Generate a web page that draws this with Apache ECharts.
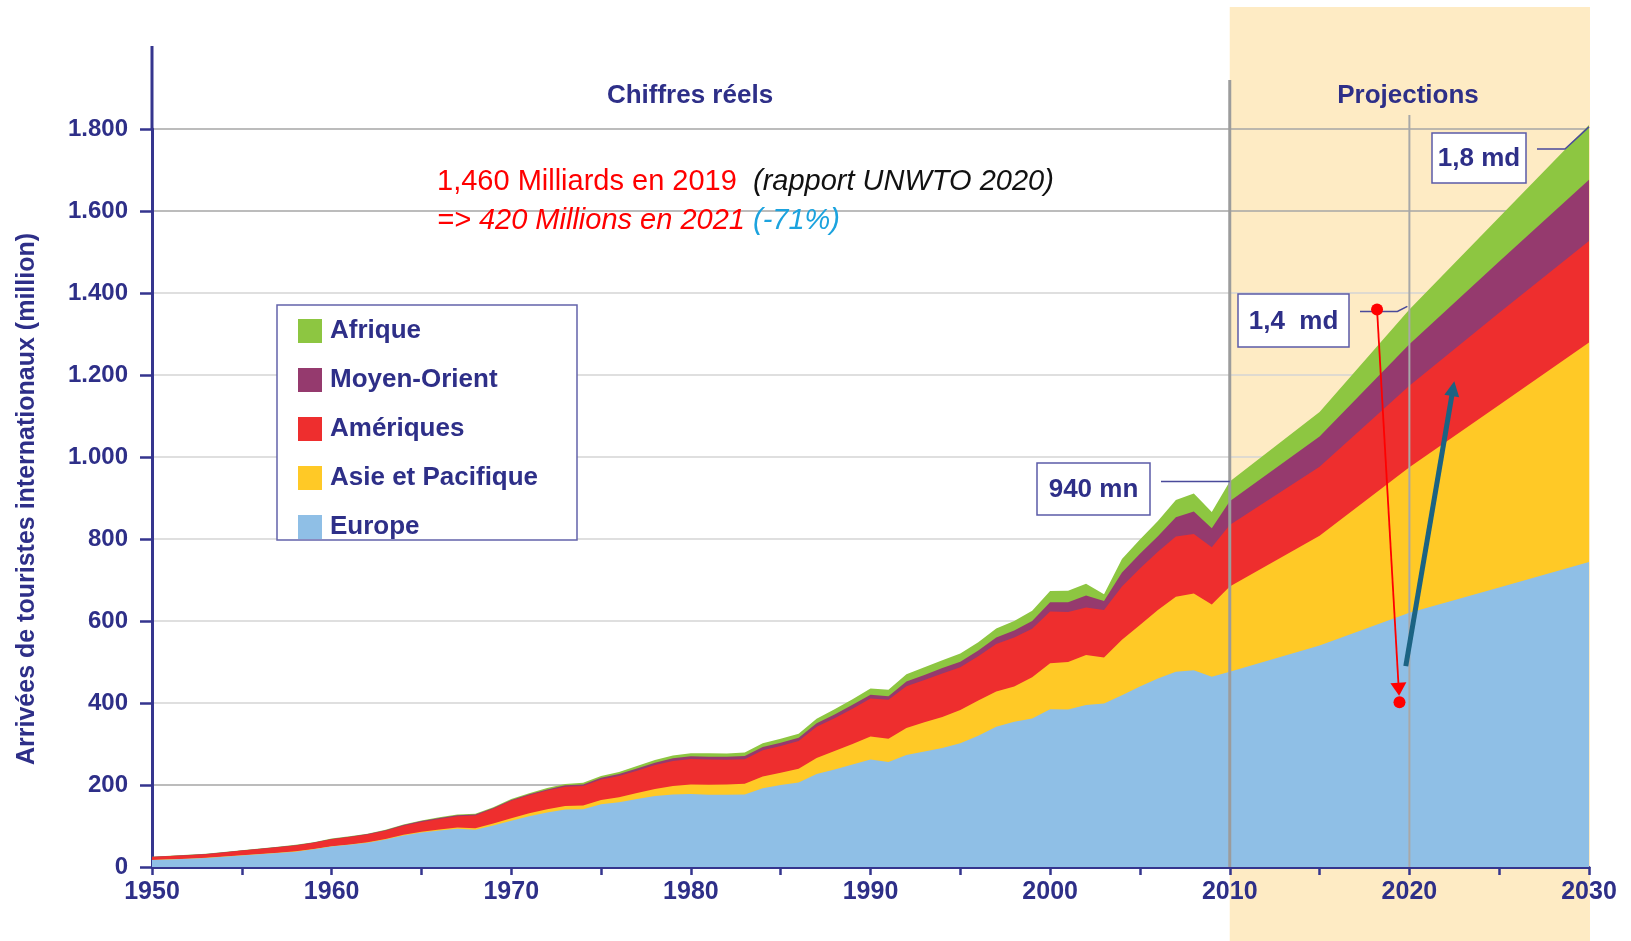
<!DOCTYPE html>
<html><head><meta charset="utf-8">
<script src="https://cdn.jsdelivr.net/npm/echarts@6/dist/echarts.min.js"></script>
<style>html,body{margin:0;padding:0;background:#fff}#c{width:1631px;height:941px}</style>
</head><body><div id="c"></div>
<script>
// ---- data (million international tourist arrivals) ----
const years = [1950,1951,1952,1953,1954,1955,1956,1957,1958,1959,
  1960,1961,1962,1963,1964,1965,1966,1967,1968,1969,
  1970,1971,1972,1973,1974,1975,1976,1977,1978,1979,
  1980,1981,1982,1983,1984,1985,1986,1987,1988,1989,
  1990,1991,1992,1993,1994,1995,1996,1997,1998,1999,
  2000,2001,2002,2003,2004,2005,2006,2007,2008,2009,
  2010,2015,2020,2025,2030];
const europe = [16.8,18.5,20,22,25,28,31,34,37.5,43,
  50,54,59,67,77,84,89,93,91,101,
  113,124,133,140,141,153,158,166,173,177,
  178,176,176,177,192,200,206,227,238,250,
  262,256,273,282,290,302,320,342,354,362,
  385,384,395,399,419,440,460,476,480,464,
  476,540,620,682,744];
const asiePacifique = [0.2,0.2,0.3,0.3,0.4,0.5,0.5,0.6,0.7,0.8,
  0.9,1.0,1.2,1.4,1.7,2.1,2.6,3.2,3.8,4.8,
  6.2,7,8,8.8,9,10.2,12,14.5,17.5,20.5,
  23,24.5,25.5,26,29,30,33.5,39,45,50,
  56,57,66,71,76,81,86,86,86,101,
  112,116,122,112,135,150,167,183,187,176,
  208,268,355,445,535];
const ameriques = [7.5,8,8.5,9,10,11.5,12.5,13.5,14.5,15.5,
  17,18,19,20,22,23.5,25.5,27.5,31,36,
  42.3,44,45.5,47,47.5,50,52,54.5,58,61,
  62.3,61.5,60,60,64,65.1,68,76,80,86,
  92.8,95,102,103,106,104,108,116,120,118,
  126,122,116,116,130,138,142,147,145,140,
  150,168,199,225,248];
const moyenOrient = [0.2,0.2,0.3,0.3,0.3,0.4,0.4,0.5,0.5,0.5,
  0.6,0.8,1.0,1.3,1.8,2.3,2.5,2.6,2.0,2.0,
  1.9,2.2,2.7,3.3,3.8,4.3,4.8,5.5,6.0,6.5,
  7.1,7.2,7.5,7.6,7.8,8.0,8.0,8.5,9.0,9.5,
  9.6,8.5,11.5,12.5,13.5,13.7,14,16,17,19,
  23,24,29,22,34,36,38,47,55,46,
  58,74,101,125,149];
const afrique = [0.5,0.5,0.6,0.6,0.7,0.7,0.7,0.7,0.8,0.8,
  0.8,0.9,1.0,1.1,1.2,1.4,1.5,1.7,1.9,2.1,
  2.4,2.8,3.2,3.6,4.0,4.7,5.2,5.8,6.3,6.8,
  7.2,8.0,7.8,8.5,9.2,9.7,9.6,11,12.5,13.5,
  15.2,16,17.5,18.5,19,20.1,20,22,23,25,
  27,28,29,16,33,35,37,42,44,40,
  48,60,85,108,134];

const legendOrder = ['Afrique','Moyen-Orient','Amériques','Asie et Pacifique','Europe'];
const projectionStart = 2010, projectionEnd = 2030, markYear = 2020;
// annotations (year, value)
const label940 = {text:'940 mn', at:[2010, 940]};
const label14 = {text:'1,4  md', at:[2020, 1360]};
const label18 = {text:'1,8 md', at:[2030, 1810]};
const redArrow = [[2018.2, 1360], [2019.45, 402]];
const blueArrow = [[2019.8, 490], [2022.5, 1185]];

// ---- styles ----
const NAVY = '#2e2f88';
const AXIS = '#35358e';
const FONT = '"Liberation Sans", Arial, Helvetica, sans-serif';
const COLORS = {Europe:'#8fbfe6', 'Asie et Pacifique':'#ffc926', 'Amériques':'#ee2e2e', 'Moyen-Orient':'#953a6e', 'Afrique':'#8dc641'};

// stacking (bottom -> top), cumulative tops built from the region arrays
const stackOrder = [['Europe', europe], ['Asie et Pacifique', asiePacifique], ['Amériques', ameriques],
  ['Moyen-Orient', moyenOrient], ['Afrique', afrique]];
const running = years.map(() => 0);
const cumulative = stackOrder.map(([name, arr]) => {
  const tops = arr.map((v, i) => (running[i] += v));
  return [name, tops];
});
// draw the highest band first so lower bands sit in front
const stackSeries = cumulative.slice().reverse().map(([name, tops]) => ({
  name, type:'line', symbol:'none', clip:false,
  color: COLORS[name],
  lineStyle:{width:0},
  areaStyle:{color: COLORS[name], opacity:1, origin:'start'},
  data: years.map((y, i) => [y, tops[i]])
}));

const chart = echarts.init(document.getElementById('c'), null, {renderer:'canvas'});
const gridColors = ['#a6a6a6','#a6a6a6','#d4d4d4','#d4d4d4','#d4d4d4','#d4d4d4','#d4d4d4','#d4d4d4','#a6a6a6','#a6a6a6'];
chart.setOption({
  animation:false,
  backgroundColor:'#ffffff',
  grid:{left:152, right:42, top:129, bottom:74, containLabel:false},
  legend:{data:legendOrder, orient:'vertical', left:277, top:305, padding:[13,10,10,21],
    itemWidth:24, itemHeight:24, itemGap:23, icon:'rect', selectedMode:false, z:10,
    textStyle:{fontFamily:FONT, fontSize:26, fontWeight:'bold', color:NAVY, padding:[0,0,0,3]}},
  xAxis:{type:'value', min:1950, max:2030, interval:5,
    axisLine:{lineStyle:{color:AXIS, width:3}},
    axisTick:{length:8, lineStyle:{color:AXIS, width:2.5}},
    axisLabel:{formatter:v => (v % 10 === 0 ? String(v) : ''), margin:13, fontFamily:FONT, fontSize:25, fontWeight:'bold', color:NAVY},
    splitLine:{show:false}},
  yAxis:{type:'value', min:0, max:1800, interval:200,
    axisLine:{show:true, lineStyle:{color:AXIS, width:3}},
    axisTick:{show:true, length:12, lineStyle:{color:AXIS, width:2.5}},
    axisLabel:{margin:24, fontFamily:FONT, fontSize:24, fontWeight:'bold', color:NAVY,
      formatter:v => v >= 1000 ? Math.floor(v/1000) + '.' + String(v % 1000).padStart(3,'0') : String(v)},
    splitLine:{show:true, lineStyle:{color:gridColors, width:1.5}}},
  series: stackSeries
});

const P = v => chart.convertToPixel({gridIndex:0}, v);
const g = [];
const ps = P([projectionStart, 0]), pe = P([projectionEnd, 0]), pm = P([markYear, 0]);
const yTop = P([1950, 1800]);
// projection shading
g.push({type:'rect', z:-1, silent:true, shape:{x:ps[0], y:7, width:pe[0]-ps[0]+1, height:934}, style:{fill:'#feebc4'}});
// y axis extension above 1800
g.push({type:'line', z:10, silent:true, shape:{x1:yTop[0], y1:46, x2:yTop[0], y2:yTop[1]}, style:{stroke:AXIS, lineWidth:3}});
// vertical separators
g.push({type:'line', z:50, silent:true, shape:{x1:ps[0], y1:80, x2:ps[0], y2:ps[1]}, style:{stroke:'#9c9c9c', lineWidth:3}});
g.push({type:'line', z:50, silent:true, shape:{x1:pm[0], y1:115, x2:pm[0], y2:pm[1]}, style:{stroke:'#a8a8a8', lineWidth:2}});

function txt(x, y, text, opts) {
  return {type:'text', z:60, silent:true, x, y,
    style:Object.assign({text, fill:NAVY, fontFamily:FONT, fontSize:26, fontWeight:'bold',
      align:'center', verticalAlign:'middle', textAlign:'center', textVerticalAlign:'middle'}, opts || {})};
}
g.push(txt(690, 96, 'Chiffres réels'));
g.push(txt(1408, 96, 'Projections'));
// y-axis name
g.push({type:'text', z:60, silent:true, x:27, y:499, rotation:Math.PI/2,
  style:{text:'Arrivées de touristes internationaux (million)', fill:NAVY, fontFamily:FONT, fontSize:25, fontWeight:'bold',
    align:'center', verticalAlign:'middle', textAlign:'center', textVerticalAlign:'middle'}});
// red commentary
g.push({type:'text', z:60, silent:true, x:437, y:182,
  style:{text:'{r|1,460 Milliards en 2019}  {k|(rapport UNWTO 2020)}', fontFamily:FONT, fontSize:29,
    align:'left', verticalAlign:'middle', textAlign:'left', textVerticalAlign:'middle',
    rich:{r:{fill:'#ff0000', fontFamily:FONT, fontSize:29}, k:{fill:'#111111', fontFamily:FONT, fontSize:29, fontStyle:'italic'}}}});
g.push({type:'text', z:60, silent:true, x:437, y:221,
  style:{text:'{r|=> 420 Millions en 2021} {b|(-71%)}', fontFamily:FONT, fontSize:29,
    align:'left', verticalAlign:'middle', textAlign:'left', textVerticalAlign:'middle',
    rich:{r:{fill:'#ff0000', fontFamily:FONT, fontSize:29, fontStyle:'italic'}, b:{fill:'#1ca3de', fontFamily:FONT, fontSize:29, fontStyle:'italic'}}}});

// legend frame
g.push({type:'rect', z:6, silent:true, shape:{x:277, y:305, width:300, height:235}, style:{fill:'#ffffff', stroke:'#6363ab', lineWidth:1.5}});

// annotation boxes
function box(x, y, w, h, text) {
  g.push({type:'rect', z:55, silent:true, shape:{x, y, width:w, height:h}, style:{fill:'#ffffff', stroke:'#5b5ba8', lineWidth:1.5}});
  g.push(txt(x + w/2, y + h/2 + 1, text, {fontSize:26}));
}
box(1037, 463, 113, 52, label940.text);
box(1238, 294, 111, 53, label14.text);
box(1432, 133, 94, 50, label18.text);
const a940 = P(label940.at), a14 = P(label14.at), a18 = P(label18.at);
g.push({type:'polyline', z:55, silent:true, shape:{points:[[1161, a940[1]], [a940[0], a940[1]]]}, style:{stroke:'#4a4a9a', lineWidth:1.5, fill:null}});
g.push({type:'polyline', z:55, silent:true, shape:{points:[[1360, a14[1]+2], [a14[0]-12, a14[1]+2], [a14[0]-2, a14[1]-3]]}, style:{stroke:'#4a4a9a', lineWidth:1.5, fill:null}});
g.push({type:'polyline', z:55, silent:true, shape:{points:[[1537, 149], [1565, 149], [a18[0], a18[1]+2]]}, style:{stroke:'#4a4a9a', lineWidth:1.5, fill:null}});

// arrows
function arrowParts(A, T, color, width, headLen, headHalf) {
  const dx = T[0]-A[0], dy = T[1]-A[1], L = Math.hypot(dx, dy);
  const ux = dx/L, uy = dy/L, nx = -uy, ny = ux;
  const bx = T[0]-ux*headLen, by = T[1]-uy*headLen;
  g.push({type:'line', z:70, silent:true, shape:{x1:A[0], y1:A[1], x2:bx+ux*2, y2:by+uy*2}, style:{stroke:color, lineWidth:width}});
  g.push({type:'polygon', z:71, silent:true, shape:{points:[[T[0],T[1]],[bx+nx*headHalf, by+ny*headHalf],[bx-nx*headHalf, by-ny*headHalf]]}, style:{fill:color}});
}
const rA = P(redArrow[0]), rB = P(redArrow[1]);
{
  const dx = rB[0]-rA[0], dy = rB[1]-rA[1], L = Math.hypot(dx, dy);
  const tip = [rB[0]-dx/L*6.5, rB[1]-dy/L*6.5];
  arrowParts(rA, tip, '#ff0000', 1.8, 13, 8);
  g.push({type:'circle', z:72, silent:true, shape:{cx:rA[0], cy:rA[1], r:6}, style:{fill:'#ff0000'}});
  g.push({type:'circle', z:72, silent:true, shape:{cx:rB[0], cy:rB[1], r:6}, style:{fill:'#ff0000'}});
}
arrowParts(P(blueArrow[0]), P(blueArrow[1]), '#1b6383', 5, 15, 7.5);

chart.setOption({graphic: g});
</script></body></html>
